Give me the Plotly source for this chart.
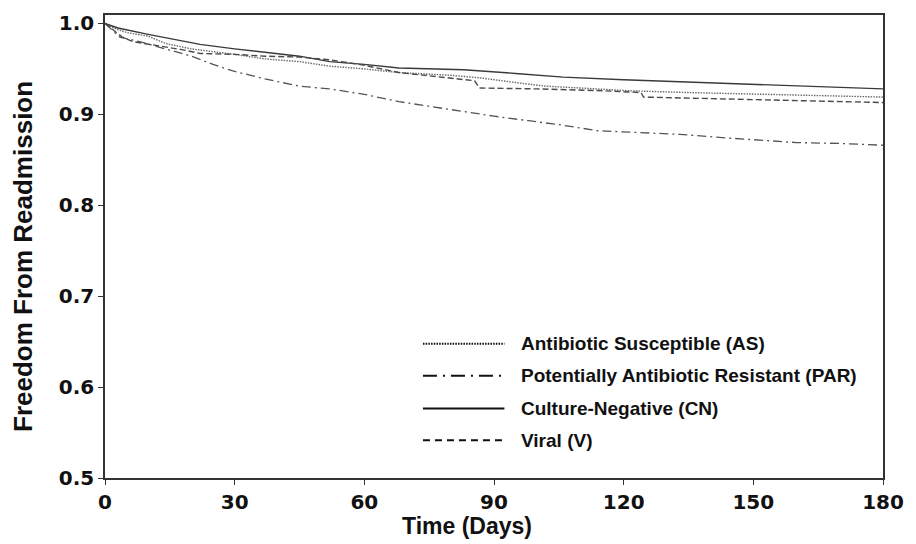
import plotly.graph_objects as go

# ---- data ----
t_AS = [0, 2, 5, 10, 14, 20, 30, 37, 45, 52, 60, 68, 80, 87, 95, 102, 110, 121, 135, 144, 160, 180]
s_AS = [1.0, 0.995, 0.990, 0.986, 0.978, 0.972, 0.966, 0.961, 0.958, 0.953, 0.950, 0.946, 0.943, 0.940, 0.935, 0.931, 0.929, 0.926, 0.924, 0.923, 0.921, 0.919]

t_PAR = [0, 2, 3.4, 8, 14, 20, 25, 29.4, 37, 45, 52, 60, 68, 80, 90, 98, 106, 114, 125, 133, 144, 160, 170, 180]
s_PAR = [1.0, 0.991, 0.985, 0.980, 0.972, 0.964, 0.955, 0.948, 0.939, 0.931, 0.928, 0.922, 0.914, 0.905, 0.898, 0.893, 0.888, 0.882, 0.880, 0.878, 0.874, 0.869, 0.868, 0.866]

t_CN = [0, 3, 10, 22, 30, 45, 52, 60, 68, 83, 95, 106, 120, 144, 160, 180]
s_CN = [1.0, 0.995, 0.988, 0.977, 0.972, 0.964, 0.958, 0.955, 0.951, 0.949, 0.945, 0.941, 0.938, 0.934, 0.931, 0.928]

t_V = [0, 2, 4, 6.5, 12, 18, 22, 30, 37, 45, 52, 60, 68, 78, 85.5, 86.6, 100, 115, 124, 124.6, 150, 180]
s_V = [1.0, 0.992, 0.985, 0.980, 0.976, 0.971, 0.967, 0.966, 0.964, 0.963, 0.960, 0.954, 0.946, 0.941, 0.937, 0.929, 0.928, 0.926, 0.924, 0.919, 0.916, 0.913]

labels = ["Antibiotic Susceptible (AS)", "Potentially Antibiotic Resistant (PAR)",
          "Culture-Negative (CN)", "Viral (V)"]
x_ticks = [0, 30, 60, 90, 120, 150, 180]
y_ticks = [0.5, 0.6, 0.7, 0.8, 0.9, 1.0]

# ---- styles ----
series = [
    (t_AS, s_AS, "#6a6a6a", "1.5px,1.2px", 1.4),
    (t_PAR, s_PAR, "#555555", "9px,4px,2px,4px", 1.3),
    (t_CN, s_CN, "#3a3a3a", "solid", 1.4),
    (t_V, s_V, "#4a4a4a", "6px,3px", 1.4),
]
legend_dash = ["1.5px,1.2px", "14px,6px,2px,6px", "solid", "7px,5px"]

fig = go.Figure()
for (t, s, col, dash, w), name in zip(series, labels):
    fig.add_trace(go.Scatter(x=t, y=s, mode="lines", name=name,
                             line=dict(color=col, dash=dash, width=w),
                             showlegend=False))

# plot area in pixels: left 105, right 888, top 12, bottom 478
L, R, T, B = 105, 888, 12, 478
def px(x):
    return (x - L) / (R - L)
def py(y):
    return (B - y) / (B - T)

leg_rows = [343, 375, 408, 440]
shapes = []
annotations = []
for yy, lab, dsh in zip(leg_rows, labels, legend_dash):
    shapes.append(dict(type="line", xref="paper", yref="paper",
                       x0=px(425), x1=px(507), y0=py(yy), y1=py(yy),
                       line=dict(color="#111111", width=2, dash=dsh)))
    annotations.append(dict(text=lab, xref="paper", yref="paper",
                            x=px(522), y=py(yy), xanchor="left", yanchor="middle",
                            showarrow=False,
                            font=dict(family="Liberation Sans", size=19, color="#111111",
                                      weight="bold")))

annotations.append(dict(text="Time (Days)", xref="paper", yref="paper",
                        x=px(469), y=py(526), xanchor="center", yanchor="middle",
                        showarrow=False,
                        font=dict(family="Liberation Sans", size=23, color="#111111",
                                  weight="bold")))
annotations.append(dict(text="Freedom From Readmission", xref="paper", yref="paper",
                        x=px(23), y=py(255), xanchor="center", yanchor="middle",
                        textangle=-90, showarrow=False,
                        font=dict(family="Liberation Sans", size=26, color="#111111",
                                  weight="bold")))

tickfont = dict(family="DejaVu Sans", size=20, color="#111111", weight="bold")
fig.update_layout(
    width=916, height=544,
    margin=dict(l=L, r=916 - R, t=T, b=544 - B),
    paper_bgcolor="white", plot_bgcolor="white",
    shapes=shapes, annotations=annotations,
    xaxis=dict(range=[0, 180], tickvals=x_ticks, ticktext=[str(v) for v in x_ticks],
               showgrid=False, zeroline=False, showline=True, mirror=True,
               linecolor="#333333", linewidth=1.5, ticks="outside", ticklen=5,
               tickcolor="#333333", tickfont=tickfont),
    yaxis=dict(range=[0.5, 1.0093], tickvals=y_ticks,
               ticktext=["%.1f" % v for v in y_ticks],
               showgrid=False, zeroline=False, showline=True, mirror=True,
               linecolor="#333333", linewidth=1.5, ticks="outside", ticklen=5,
               tickcolor="#333333", tickfont=tickfont),
)

fig.write_html("out.html", config={"displayModeBar": False},
               post_script="document.body.style.margin='0';document.body.style.overflow='hidden';")
